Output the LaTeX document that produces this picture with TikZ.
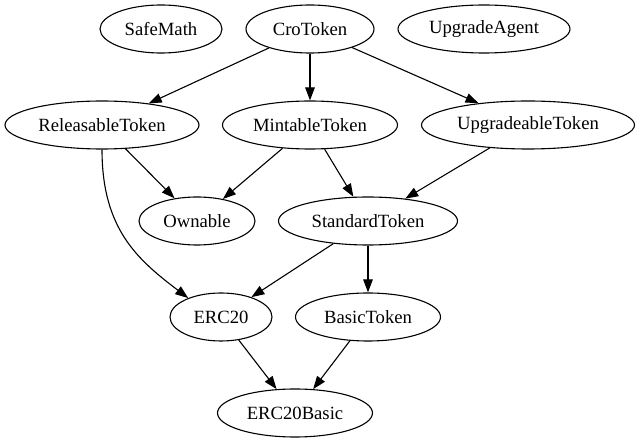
\documentclass[tikz,border=0pt]{standalone}
\usepackage{fontspec}
\setmainfont{Liberation Serif}
\usetikzlibrary{shapes.geometric,arrows.meta}
\begin{document}
\begin{tikzpicture}[x=1pt,y=-1pt,
  cls/.style={draw, ellipse, line width=1.1pt, inner sep=0pt, minimum height=48pt,
    font=\fontsize{18.67}{22}\selectfont},
  arr/.style={line width=1.1pt, -{Triangle[length=13pt,width=9.5pt]}}]
\useasboundingbox (0,0) rectangle (641,443);
\node[cls, minimum width=122pt] (SM) at (161,29) {SafeMath};
\node[cls, minimum width=128pt] (CT) at (310,29) {CroToken};
\node[cls, minimum width=172pt] (UA) at (484,29) {UpgradeAgent};
\node[cls, minimum width=194pt] (RT) at (102,125) {ReleasableToken};
\node[cls, minimum width=175pt] (MT) at (310,125) {MintableToken};
\node[cls, minimum width=213pt] (UT) at (528,125) {UpgradeableToken};
\node[cls, minimum width=116pt] (OW) at (197,221) {Ownable};
\node[cls, minimum width=179pt] (ST) at (368,221) {StandardToken};
\node[cls, minimum width=102pt] (E20) at (221,317) {ERC20};
\node[cls, minimum width=145pt] (BT) at (368,317) {BasicToken};
\node[cls, minimum width=155pt] (EB) at (295,413) {ERC20Basic};
\draw[arr] (CT) -- (RT);
\draw[arr] (CT) -- (MT);
\draw[arr] (CT) -- (UT);
\draw[arr] (RT) -- (OW);
\draw[arr] (MT) -- (OW);
\draw[arr] (MT) -- (ST);
\draw[arr] (UT) -- (ST);
\draw[arr] (RT.south) .. controls +(0,80) and +(-50,-38) .. (E20.150);
\draw[arr] (ST) -- (E20);
\draw[arr] (ST) -- (BT);
\draw[arr] (E20) -- (EB);
\draw[arr] (BT) -- (EB);
\end{tikzpicture}
\end{document}
